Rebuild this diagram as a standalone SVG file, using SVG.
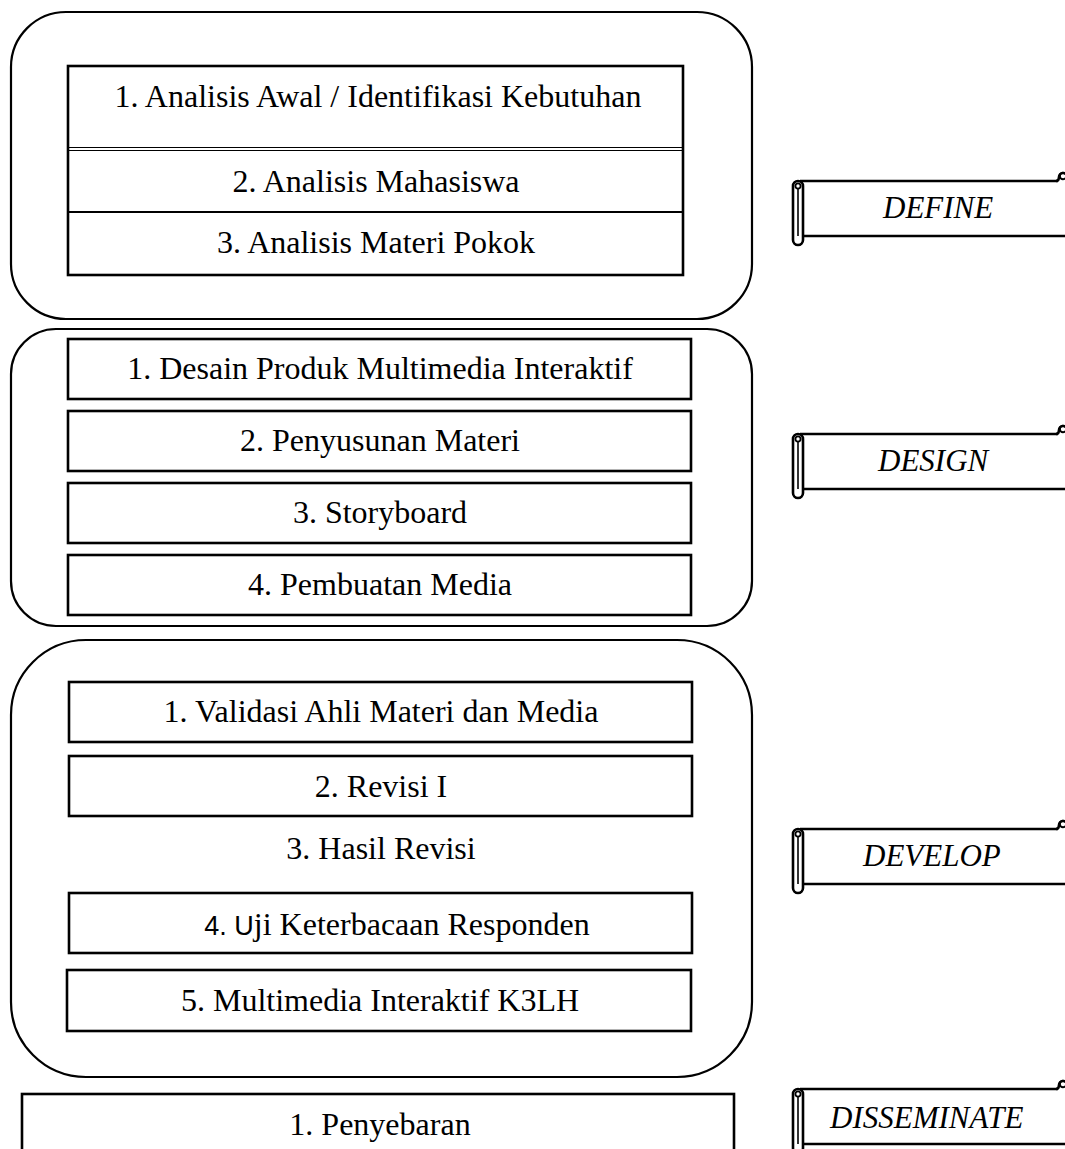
<svg xmlns="http://www.w3.org/2000/svg" width="1065" height="1149" viewBox="0 0 1065 1149">
<defs>
<style>
.cont{fill:none;stroke:#000;stroke-width:2.2}
.box{fill:#fff;stroke:#000;stroke-width:2.6}
.t{font-family:"Liberation Serif","Times New Roman",serif;font-size:32px;fill:#000;text-anchor:middle}
.it{font-family:"Liberation Serif","Times New Roman",serif;font-size:31px;font-style:italic;fill:#000}
.sc{fill:#fff;stroke:#000;stroke-width:2.6;stroke-linejoin:round}
.scl{fill:none;stroke:#000;stroke-width:2.6}
</style>
<g id="scroll">
<rect x="800" y="181" width="270" height="55" fill="#fff"/>
<line class="scl" x1="800" y1="181" x2="1058" y2="181"/>
<line class="scl" x1="803" y1="236" x2="1065" y2="236"/>
<path class="sc" d="M803,186 L803,240 A5,5 0 0 1 793,240 L793,186 A5,5 0 0 1 803,186 Z"/>
<line x1="798" y1="189" x2="798" y2="236" stroke="#000" stroke-width="1.6"/>
<circle cx="798" cy="186" r="2.6" fill="none" stroke="#000" stroke-width="1.8"/>
<path class="scl" d="M1056,181 C1059,181 1059,179 1059,177 A4,4 0 0 1 1067,177"/>
<circle cx="1063" cy="176" r="3.2" fill="none" stroke="#000" stroke-width="2"/>
</g>
</defs>

<g id="connectors"></g>

<g id="define-group">
<rect class="cont" x="11" y="12" width="741" height="307" rx="55" ry="55"/>
<rect class="box" x="68" y="66" width="615" height="209"/>
<line x1="68" y1="147.5" x2="683" y2="147.5" stroke="#000" stroke-width="1.2"/>
<line x1="68" y1="150.5" x2="683" y2="150.5" stroke="#000" stroke-width="1.2"/>
<line x1="68" y1="212" x2="683" y2="212" stroke="#000" stroke-width="2"/>
<text class="t" x="378" y="107">1. Analisis Awal / Identifikasi Kebutuhan</text>
<text class="t" x="376" y="192">2. Analisis Mahasiswa</text>
<text class="t" x="376" y="253">3. Analisis Materi Pokok</text>
</g>

<g id="design-group">
<rect class="cont" x="11" y="329" width="741" height="297" rx="45" ry="45"/>
<g id="design-1"><rect class="box" x="68" y="339" width="623" height="60"/><text class="t" x="380" y="379">1. Desain Produk Multimedia Interaktif</text></g>
<g id="design-2"><rect class="box" x="68" y="411" width="623" height="60"/><text class="t" x="380" y="451">2. Penyusunan Materi</text></g>
<g id="design-3"><rect class="box" x="68" y="483" width="623" height="60"/><text class="t" x="380" y="523">3. Storyboard</text></g>
<g id="design-4"><rect class="box" x="68" y="555" width="623" height="60"/><text class="t" x="380" y="595">4. Pembuatan Media</text></g>
</g>

<g id="develop-group">
<rect class="cont" x="11" y="640" width="741" height="437" rx="75" ry="75"/>
<g id="develop-1"><rect class="box" x="69" y="682" width="623" height="60"/><text class="t" x="381" y="722">1. Validasi Ahli Materi dan Media</text></g>
<g id="develop-2"><rect class="box" x="69" y="756" width="623" height="60"/><text class="t" x="381" y="797">2. Revisi I</text></g>
<g id="develop-3"><text class="t" x="381" y="859">3. Hasil Revisi</text></g>
<g id="develop-4"><rect class="box" x="69" y="893" width="623" height="60"/><text class="t" x="397" y="935"><tspan font-family="Liberation Sans, Arial, sans-serif" font-size="27">4. U</tspan>ji Keterbacaan Responden</text></g>
<g id="develop-5"><rect class="box" x="67" y="970" width="624" height="61"/><text class="t" x="380" y="1011">5. Multimedia Interaktif K3LH</text></g>
</g>

<g id="disseminate-group">
<rect class="box" x="22" y="1094" width="712" height="80"/>
<text class="t" x="380" y="1135">1. Penyebaran</text>
</g>

<g id="label-define"><use href="#scroll"/><text class="it" x="883" y="218">DEFINE</text></g>
<g id="label-design"><use href="#scroll" transform="translate(0,253)"/><text class="it" x="878" y="471">DESIGN</text></g>
<g id="label-develop"><use href="#scroll" transform="translate(0,648)"/><text class="it" x="863" y="866">DEVELOP</text></g>
<g id="label-disseminate"><use href="#scroll" transform="translate(0,908)"/><text class="it" x="830" y="1128">DISSEMINATE</text></g>
</svg>
